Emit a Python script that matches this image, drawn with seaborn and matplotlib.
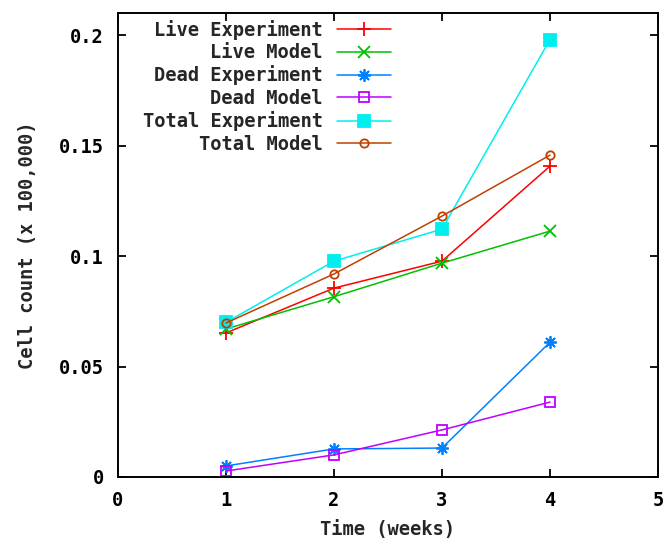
import numpy as np
import pandas as pd
import matplotlib
matplotlib.use('Agg')
import matplotlib.pyplot as plt
import seaborn as sns
from matplotlib.ticker import FuncFormatter

# data
weeks = [1, 2, 3, 4]
live_exp = [0.0652, 0.0855, 0.0977, 0.1407]
live_model = [0.0670, 0.0816, 0.0968, 0.1113]
dead_exp = [0.0050, 0.0127, 0.0131, 0.0610]
dead_model = [0.0027, 0.0100, 0.0213, 0.0339]
total_exp = [0.0700, 0.0977, 0.1122, 0.1980]
total_model = [0.0697, 0.0919, 0.1181, 0.1457]

names = ['Live Experiment', 'Live Model', 'Dead Experiment',
         'Dead Model', 'Total Experiment', 'Total Model']
series = [live_exp, live_model, dead_exp, dead_model, total_exp, total_model]
colors = ['#ff0000', '#00c000', '#0080ff', '#c000ff', '#00eeee', '#c04000']
markers = ['+', 'x', (8, 2, 0), 's', 's', 'o']
filled = [True, True, True, False, True, False]
msizes = [10, 9, 9, 7.5, 8.5, 6]

sns.set_theme(style='ticks')
plt.rcParams['font.family'] = ['DejaVu Sans Mono']
plt.rcParams['font.weight'] = 'bold'

fig = plt.figure(figsize=(6.68, 5.45), dpi=100)
ax = fig.add_axes([0.1766, 0.1248, 0.8084, 0.8512])

for name, vals, c, m, f, ms in zip(names, series, colors, markers, filled, msizes):
    df = pd.DataFrame({'week': weeks, 'count': vals})
    sns.lineplot(data=df, x='week', y='count', ax=ax, color=c, linewidth=1.1,
                 marker=m, markersize=ms, markeredgecolor=c,
                 markerfacecolor=(c if f else 'none'), markeredgewidth=1.3,
                 label=name)

ax.set_xlim(0, 5)
ax.set_ylim(0, 0.21)
ax.set_xticks([0, 1, 2, 3, 4, 5])
ax.set_yticks([0, 0.05, 0.1, 0.15, 0.2])
ax.yaxis.set_major_formatter(FuncFormatter(lambda v, p: '%g' % v))
ax.tick_params(direction='in', top=True, right=True, length=6, width=1.3,
               labelsize=13.5, pad=10, colors='black')
for sp in ax.spines.values():
    sp.set_visible(True)
    sp.set_linewidth(1.4)
    sp.set_color('black')

ax.set_xlabel('Time (weeks)', fontsize=13.5, fontweight='bold', labelpad=7)
ax.set_ylabel('Cell count (x 100,000)', fontsize=13.5, fontweight='bold', labelpad=16)

leg = ax.legend(loc='upper right', bbox_to_anchor=(0.527, 1.01), frameon=False,
                markerfirst=False, fontsize=13.5, handlelength=2.9,
                handletextpad=0.75, labelspacing=0.18, borderaxespad=0.2)

fig.savefig('out.png', dpi=100)
